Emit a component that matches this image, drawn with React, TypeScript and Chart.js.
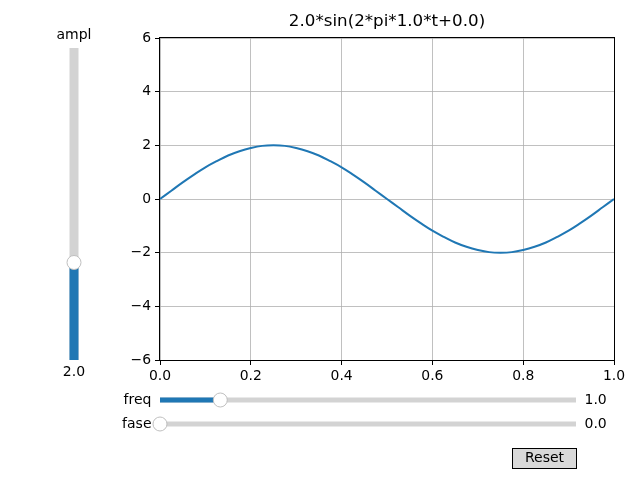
import React, { useEffect, useRef } from "react";
import { Chart, registerables } from "chart.js";

Chart.register(...registerables);

// ---- data ----
const titleText = "2.0*sin(2*pi*1.0*t+0.0)";
const tValues = [
  0, 0.025, 0.05, 0.075, 0.1, 0.125, 0.15, 0.175, 0.2, 0.225, 0.25,
  0.275, 0.3, 0.325, 0.35, 0.375, 0.4, 0.425, 0.45, 0.475, 0.5,
  0.525, 0.55, 0.575, 0.6, 0.625, 0.65, 0.675, 0.7, 0.725, 0.75,
  0.775, 0.8, 0.825, 0.85, 0.875, 0.9, 0.925, 0.95, 0.975, 1.0,
];
const sValues = [
  0, 0.31, 0.62, 0.91, 1.18, 1.41, 1.62, 1.78, 1.9, 1.98, 2.0,
  1.98, 1.9, 1.78, 1.62, 1.41, 1.18, 0.91, 0.62, 0.31, 0,
  -0.31, -0.62, -0.91, -1.18, -1.41, -1.62, -1.78, -1.9, -1.98, -2.0,
  -1.98, -1.9, -1.78, -1.62, -1.41, -1.18, -0.91, -0.62, -0.31, 0,
];
const xTicks = [0, 0.2, 0.4, 0.6, 0.8, 1.0];
const yTicks = [-6, -4, -2, 0, 2, 4, 6];

const sliderLabels = ["ampl", "freq", "fase"];
const sliderValues = [2.0, 1.0, 0.0];
const sliderMins = [0, 0, 0];
const sliderMaxs = [6.4, 6.9, 6.28];
const buttonLabel = "Reset";

const FONT = "DejaVu Sans";
const BLUE = "#1f77b4";
const TRACK = "#d3d3d3";

function circleHandle(ctx: CanvasRenderingContext2D, x: number, y: number) {
  ctx.beginPath();
  ctx.arc(x, y, 7, 0, Math.PI * 2);
  ctx.fillStyle = "#ffffff";
  ctx.fill();
  ctx.lineWidth = 1;
  ctx.strokeStyle = "#bfbfbf";
  ctx.stroke();
}

const widgetsPlugin = {
  id: "widgets",
  afterDraw(chart: any) {
    const ctx: CanvasRenderingContext2D = chart.ctx;
    const a = chart.chartArea;
    ctx.save();
    // frame
    ctx.strokeStyle = "#000000";
    ctx.lineWidth = 1;
    ctx.strokeRect(
      Math.round(a.left) - 0.5,
      Math.round(a.top) - 0.5,
      Math.round(a.right) - Math.round(a.left) + 1,
      Math.round(a.bottom) - Math.round(a.top) + 1
    );

    // title centred over the plot area
    ctx.fillStyle = "#000000";
    ctx.font = `16.7px "${FONT}"`;
    ctx.textAlign = "center";
    ctx.textBaseline = "middle";
    ctx.fillText(titleText, (a.left + a.right) / 2, 22);

    ctx.font = `14px "${FONT}"`;

    // vertical slider (ampl)
    const vx = 74, vTop = 48, vBot = 360;
    const vFrac = (sliderValues[0] - sliderMins[0]) / (sliderMaxs[0] - sliderMins[0]);
    const vy = vBot - vFrac * (vBot - vTop);
    ctx.fillStyle = TRACK;
    ctx.fillRect(vx - 4.5, vTop, 9, vBot - vTop);
    ctx.fillStyle = BLUE;
    ctx.fillRect(vx - 4.5, vy, 9, vBot - vy);
    circleHandle(ctx, vx, vy);
    ctx.fillStyle = "#000000";
    ctx.textAlign = "center";
    ctx.textBaseline = "middle";
    ctx.fillText(sliderLabels[0], vx, 35);
    ctx.fillText(sliderValues[0].toFixed(1), vx, 372);

    // horizontal sliders
    const hx0 = 160, hx1 = 576;
    const rows = [400, 424];
    for (let i = 1; i < 3; i++) {
      const y = rows[i - 1];
      const frac = (sliderValues[i] - sliderMins[i]) / (sliderMaxs[i] - sliderMins[i]);
      const hx = hx0 + frac * (hx1 - hx0);
      ctx.fillStyle = TRACK;
      ctx.fillRect(hx0, y - 2.5, hx1 - hx0, 5);
      ctx.fillStyle = BLUE;
      ctx.fillRect(hx0, y - 2.5, hx - hx0, 5);
      circleHandle(ctx, hx, y);
      ctx.fillStyle = "#000000";
      ctx.textBaseline = "middle";
      ctx.textAlign = "right";
      ctx.fillText(sliderLabels[i], 151.5, y);
      ctx.textAlign = "left";
      ctx.fillText(sliderValues[i].toFixed(1), 584.5, y);
    }

    // reset button
    ctx.fillStyle = "#d9d9d9";
    ctx.fillRect(512.5, 448.5, 64, 20);
    ctx.strokeStyle = "#000000";
    ctx.strokeRect(512.5, 448.5, 64, 20);
    ctx.fillStyle = "#000000";
    ctx.textAlign = "center";
    ctx.textBaseline = "middle";
    ctx.fillText(buttonLabel, 544.5, 458.5);
    ctx.restore();
  },
};

export default function App() {
  const ref = useRef<HTMLCanvasElement | null>(null);
  useEffect(() => {
    if (!ref.current) return;
    const chart = new Chart(ref.current, {
      type: "line",
      data: {
        datasets: [
          {
            data: tValues.map((t, i) => ({ x: t, y: sValues[i] })),
            borderColor: BLUE,
            borderWidth: 2,
            pointRadius: 0,
            fill: false,
            tension: 0.4,
          },
        ],
      },
      options: {
        animation: false,
        responsive: false,
        devicePixelRatio: 1,
        layout: { padding: { left: 0, right: 26, top: 38, bottom: 0 } },
        plugins: {
          legend: { display: false },
          tooltip: { enabled: false },
          title: { display: false },
        },
        scales: {
          x: {
            type: "linear",
            min: 0,
            max: 1,
            afterFit: (s: any) => {
              s.height = 120;
            },
            afterBuildTicks: (s: any) => {
              s.ticks = xTicks.map((v) => ({ value: v }));
            },
            ticks: {
              color: "#000000",
              font: { family: FONT, size: 13.9 },
              padding: 3,
              maxRotation: 0,
              callback: (v: any) => Number(v).toFixed(1),
            },
            grid: {
              color: "#b0b0b0",
              lineWidth: 0.8,
              tickColor: "#000000",
              tickLength: 5,
              tickWidth: 1,
            },
            border: { display: false },
          },
          y: {
            type: "linear",
            min: -6,
            max: 6,
            afterFit: (s: any) => {
              s.width = 160;
            },
            afterBuildTicks: (s: any) => {
              s.ticks = yTicks.map((v) => ({ value: v }));
            },
            ticks: {
              color: "#000000",
              font: { family: FONT, size: 13.9 },
              padding: 4,
              callback: (v: any) => String(v).replace("-", "\u2212"),
            },
            grid: {
              color: "#b0b0b0",
              lineWidth: 0.8,
              tickColor: "#000000",
              tickLength: 5,
              tickWidth: 1,
            },
            border: { display: false },
          },
        },
      },
      plugins: [widgetsPlugin],
    } as any);
    return () => chart.destroy();
  }, []);
  return (
    <div style={{ position: "fixed", left: 0, top: 0, width: 640, height: 480, background: "#ffffff" }}>
      <canvas ref={ref} width={640} height={480} style={{ display: "block" }} />
    </div>
  );
}
